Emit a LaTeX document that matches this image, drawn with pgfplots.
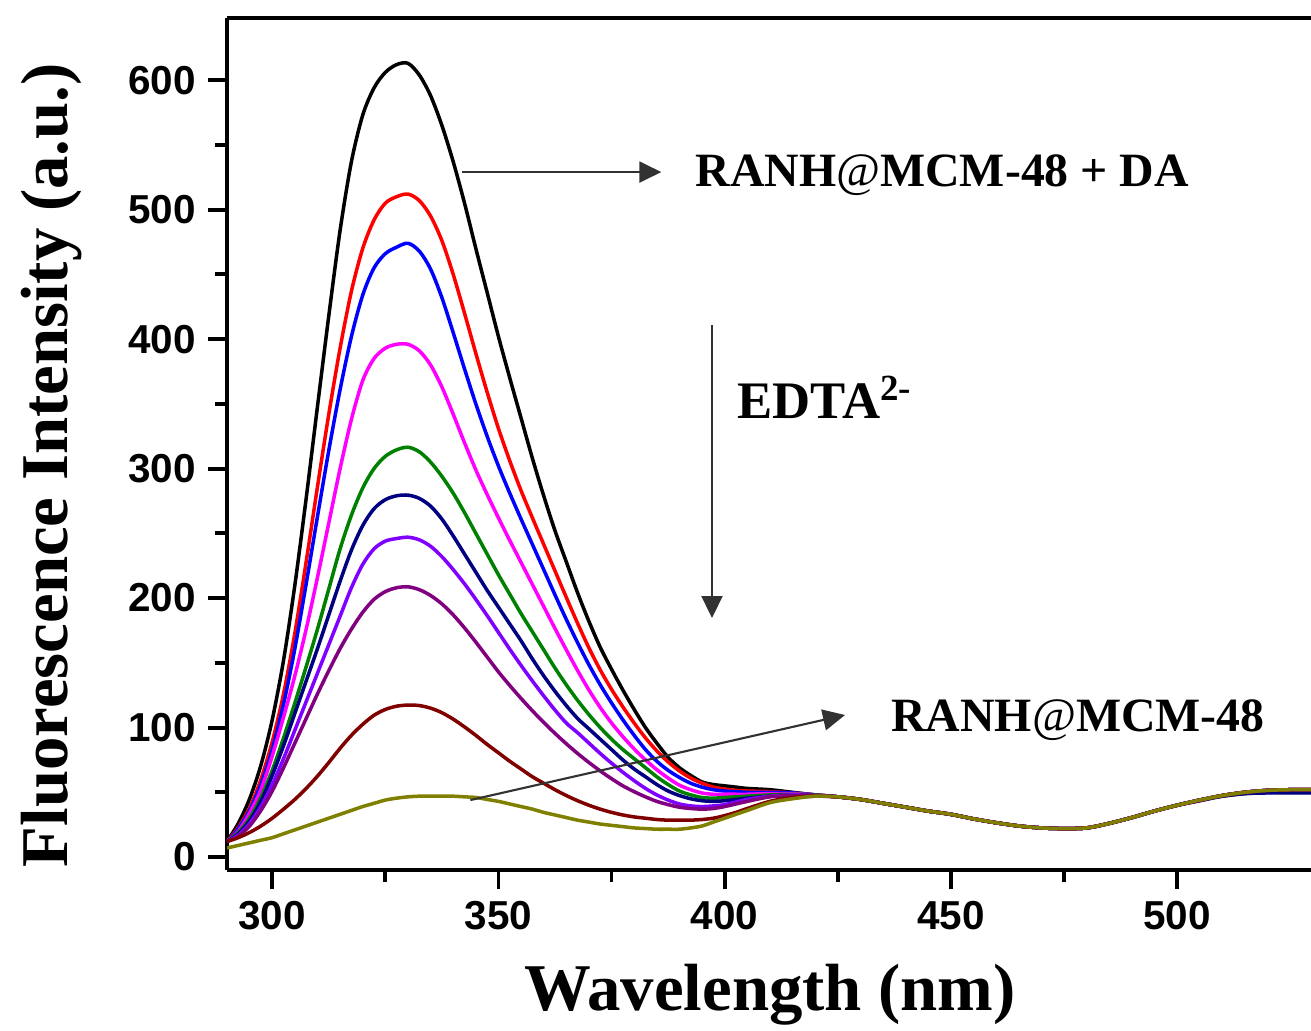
\documentclass[border=0pt]{standalone}
\usepackage{fontspec}
\setmainfont{Liberation Serif}
\setsansfont{Liberation Sans}
\usepackage{pgfplots}
\pgfplotsset{compat=1.18}
\usepackage{pgfplotstable}
\usetikzlibrary{arrows.meta}

\definecolor{cK}{RGB}{0,0,0}
\definecolor{cR}{RGB}{255,0,0}
\definecolor{cB}{RGB}{0,0,255}
\definecolor{cM}{RGB}{255,0,255}
\definecolor{cG}{RGB}{0,128,0}
\definecolor{cN}{RGB}{0,0,128}
\definecolor{cV}{RGB}{128,0,255}
\definecolor{cP}{RGB}{128,0,128}
\definecolor{cW}{RGB}{128,0,0}
\definecolor{cO}{RGB}{128,128,0}
\definecolor{arrowgray}{RGB}{50,50,50}

\pgfplotstableread{
L K R B M G N V P W O
290 12 12 11.5 12 12 12 12 12 12 7
292.5 26 23 22 20 19 18 17 16 15 9
295 45 38 36 34 30 28 26 24 19 11
297.5 71 60 56 52 46 43 39 36 24 13
300 106 89 83 78 67 63 56 51 30 15
302.5 152 126 118 108 92 86 76 69 37 18
305 210 173 161 140 119 111 98 88 44.5 21
307.5 277 228 211 176 147 136 120 107 53 24
310 348 286 263 216 176 161 142 126 62.5 27
312.5 418 342 314 258 207 187 164 144 73 30
315 484 393 361 300 238 213 186 161 84 33
317.5 537 437 402 338 264 237 208 176 94 36
320 573 470 434 368 285 256 226 189 102.5 39
322.5 594 492 455 385 300 269 238 199 109.5 41.5
325 606 505 466 393 309.5 276 244 205 114 44
327.5 612 510 471 396 314.5 279 246 208 116.5 45.5
330 613 512 474 396 316.5 279.5 247 208.7 117.4 46.5
332.5 604 507 468 391 313 277 245 206.5 117 47
335 588 495 454 380 305 271 240 202 115 47
337.5 565 476 432 363 294 261 232 195.5 111.5 47
340 537 450 405 342 281 248 222 187 106.5 47
342.5 505 420 377 320 266 234 211 177 100.5 46.5
345 470 389 350 299 250 220 199 166 94 46
347.5 436 359 325 280 234 206 186.5 154.5 87 44.5
350 402 331 302 262 218 193 173.5 143 80.5 43
352.5 370 306 281 244.5 203 180 160.5 132.5 74 41
355 339 283 261 227.5 188 167 148 122.5 68 39
357.5 308 262 241.5 210.5 174 153 136 113 62 37
360 279 241.5 222 193.5 160 140 124.5 104 57 34.5
362.5 252 221 202.5 176.5 146 128 113.5 95.5 52 32.5
365 228 200.5 183.5 160 133 117 103.5 87.5 47.5 30.5
367.5 204 180.5 165.5 144 121 107 96 80 43.5 28.5
370 182 161.5 148.5 129 110 99 88 73 40 27
372.5 162 144.5 133 115.5 100 91 80 66.5 37 25.5
375 145 129.5 119 103.5 91 83 72.5 60.5 34.5 24.5
377.5 129 116 106 93 83 75 65.5 55 32.5 23.5
380 114 103.5 94 83.5 76 68 59 50.5 31 22.5
382.5 100 92 83 75 69 62 53 46.5 30 22
385 88 82 74 67.5 62 56 48 43 29 21.5
387.5 77 73.5 67 61 56 51 44 40.5 28.5 21.5
390 69 66.5 61.5 55.5 51 47.5 41 38.5 28.5 21.5
392.5 63 61 57 52 48 45 39.5 37.5 28.5 22.5
395 58 57 54 49.5 46 43.5 39 37 29 24
397.5 56 54 52 48.5 45.5 43 39.5 37.5 30 27
400 55 52.5 51 48.5 46 43.5 40.5 39 32 30
402.5 54 51.5 50.5 48.5 46.5 44.5 42.5 41 34.5 33
405 53 51 50 48.5 47 45.5 44.5 43 37.5 36
410 52 50.5 50 49 48 47 47 46.5 43 42
415 50 49.5 49.5 49 48.5 48 48 47.5 46 45
420 48 48 48 48 48 47.5 47.5 47.5 47 47
425 46.5 46.5 46.5 46.5 46.5 46.5 46.5 46.5 46.5 46.5
430 44.5 44.5 44.5 44.5 44.5 44.5 44.5 44.5 44.5 44.5
435 41.5 41.5 41.5 41.5 41.5 41.5 41.5 41.5 41.5 41.5
440 38.5 38.5 38.5 38.5 38.5 38.5 38.5 38.5 38.5 38.5
445 35.5 35.5 35.5 35.5 35.5 35.5 35.5 35.5 35.5 35.5
450 33 33 33 33 33 33 33 33 33 33
455 29.5 29.5 29.5 29.5 29.5 29.5 29.5 29.5 29.5 29.5
460 26.5 26.5 26.5 26.5 26.5 26.5 26.5 26.5 26.5 26.5
465 24 24 24 24 24 24 24 24 24 24
470 22.5 22.5 22.5 22.5 22.5 22.5 22.5 22.5 22.5 22.5
475 22 22 22 22 22 22 22 22 22 22
480 22.5 22.5 22.5 22.5 22.5 22.5 22.5 22.5 22.5 22.5
485 26 26 26 26 26 26 26 26 26 26
490 30.5 30.5 30.5 30.5 30.5 30.5 30.5 30.5 30.5 30.5
495 35.5 35.5 35.5 35.5 35.5 35.5 35.5 35.5 35.5 35.5
500 40 40 40 40 40 40 40 40 40 40
505 44 43.5 44 44 44 43.5 44 44 44 44
510 47 47.5 47.5 47.5 47.5 47 47.5 47.5 47.5 47.5
515 49 50 50 50 50 49 50 50 50 50
520 50 51.5 51.5 51.5 51.5 49.5 51.5 51.5 51.5 51.5
525 50 52 52 52 52 49.5 52 52 52 52
530 50 52 52 52 52 49.5 52 52 52 52
}\spectra

\begin{document}
\begin{tikzpicture}
\begin{axis}[
  at={(0,0)}, anchor=south west,
  scale only axis, width=10.84cm, height=8.52cm,
  xmin=290, xmax=529.6, ymin=-10, ymax=648,
  axis x line*=box, axis y line*=left,
  xtick={300,350,400,450,500}, ytick={0,100,200,300,400,500,600},
  minor x tick num=1, minor y tick num=1,
  xtick pos=left, ytick pos=left,
  tick align=outside,
  major tick length=1.9mm, minor tick length=1.2mm,
  axis line style={line width=1.2pt, black},
  major tick style={line width=1.1pt, black},
  minor tick style={line width=1.1pt, black},
  tick label style={font=\fontsize{11.5}{13}\selectfont\sffamily\bfseries},
  /pgf/number format/assume math mode=true,
  xlabel={\fontsize{19}{22}\selectfont\bfseries Wavelength (nm)},
  ylabel={\fontsize{19}{22}\selectfont\bfseries Fluorescence Intensity (a.u.)},
  every axis x label/.style={at={(axis description cs:0.501,-0.165)}, anchor=base},
  every axis y label/.style={at={(axis description cs:-0.147,0.475)}, rotate=90, anchor=base},
  every axis plot/.append style={line width=1pt, line join=round},
]
\addplot[cK, smooth, no markers] table[x=L, y=K] {\spectra};
\addplot[cR, smooth, no markers] table[x=L, y=R] {\spectra};
\addplot[cB, smooth, no markers] table[x=L, y=B] {\spectra};
\addplot[cM, smooth, no markers] table[x=L, y=M] {\spectra};
\addplot[cG, smooth, no markers] table[x=L, y=G] {\spectra};
\addplot[cN, smooth, no markers] table[x=L, y=N] {\spectra};
\addplot[cV, smooth, no markers] table[x=L, y=V] {\spectra};
\addplot[cP, smooth, no markers] table[x=L, y=P] {\spectra};
\addplot[cW, smooth, no markers] table[x=L, y=W] {\spectra};
\addplot[cO, smooth, no markers] table[x=L, y=O] {\spectra};

\draw[arrowgray, line width=0.6pt, -{Triangle[length=2.2mm,width=2.1mm]}] (axis cs:342,529) -- (axis cs:386,529);
\draw[arrowgray, line width=0.6pt, -{Triangle[length=2.2mm,width=2.1mm]}] (axis cs:397.2,411) -- (axis cs:397.2,184.6);
\draw[arrowgray, line width=0.6pt, -{Triangle[length=2.2mm,width=2.1mm]}] (axis cs:343.8,44) -- (axis cs:426.6,109.7);

\node[anchor=base, font=\fontsize{13.6}{16}\selectfont\bfseries] at (axis cs:448.1,517.6) {RANH{\mdseries @}MCM-48 + DA};
\node[anchor=base west, font=\fontsize{15}{18}\selectfont\bfseries, inner sep=0pt] at (axis cs:402.7,338.7) {EDTA\textsuperscript{2-}};
\node[anchor=base, font=\fontsize{13.6}{16}\selectfont\bfseries] at (axis cs:478.1,96.8) {RANH{\mdseries @}MCM-48};
\end{axis}
\pgfresetboundingbox
\path[use as bounding box] (-2.27cm,-1.60cm) rectangle (10.84cm,8.70cm);
\end{tikzpicture}
\end{document}
